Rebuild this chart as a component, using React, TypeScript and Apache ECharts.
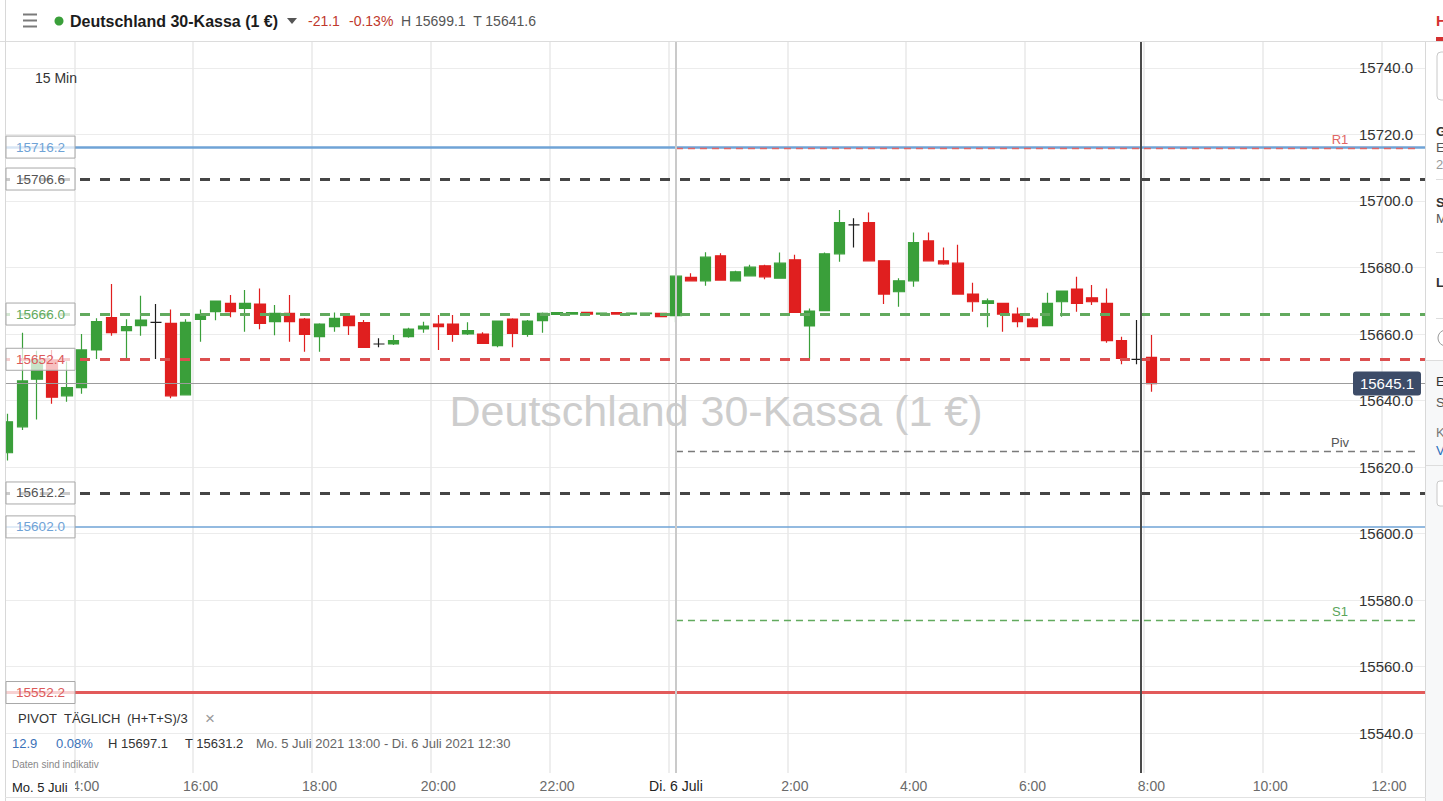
import React, { useEffect, useRef } from 'react';
import * as echarts from 'echarts';

// 15-minute slots, Mo. 5 Juli 12:45 -> Di. 6 Juli 12:30
const categories = [
  '12:45',
  '13:00', '13:15', '13:30', '13:45', '14:00', '14:15', '14:30', '14:45',
  '15:00', '15:15', '15:30', '15:45', '16:00', '16:15', '16:30', '16:45',
  '17:00', '17:15', '17:30', '17:45', '18:00', '18:15', '18:30', '18:45',
  '19:00', '19:15', '19:30', '19:45', '20:00', '20:15', '20:30', '20:45',
  '21:00', '21:15', '21:30', '21:45', '22:00', '22:15', '22:30', '22:45',
  '23:00', '23:15', '23:30', '23:45',
  '0:00', '0:15', '0:30', '0:45', '1:00', '1:15', '1:30', '1:45',
  '2:00', '2:15', '2:30', '2:45', '3:00', '3:15', '3:30', '3:45',
  '4:00', '4:15', '4:30', '4:45', '5:00', '5:15', '5:30', '5:45',
  '6:00', '6:15', '6:30', '6:45', '7:00', '7:15', '7:30', '7:45',
  '8:00', '8:15', '8:30', '8:45', '9:00', '9:15', '9:30', '9:45',
  '10:00', '10:15', '10:30', '10:45', '11:00', '11:15', '11:30', '11:45',
  '12:00', '12:15', '12:30',
];

const xTickLabels = ['14:00', '16:00', '18:00', '20:00', '22:00', '0:00', '2:00', '4:00', '6:00', '8:00', '10:00', '12:00'];
const dayLabel = 'Di. 6 Juli';
const dayCategory = '0:00';

const opens = [
  15624.3, 15632.1, 15646.4, 15652.2, 15641.4, 15643.9, 15655.2, 15664.9, 15661.0, 15662.5,
  15663.5, 15663.2, 15641.7, 15664.4, 15666.7, 15669.2, 15667.7, 15669.0, 15663.7, 15666.2,
  15664.5, 15659.2, 15662.2, 15665.4, 15663.4, 15657.0, 15657.0, 15659.2, 15661.5, 15663.0,
  15663.0, 15660.0, 15660.0, 15656.5, 15664.5, 15659.9, 15664.0, 15665.9, 15666.0, 15666.5,
  15666.0, 15666.4, 15666.0, 15666.1, 15666.2, 15665.5, 15677.0, 15676.0, 15683.5, 15676.0,
  15677.5, 15680.5, 15676.8, 15682.3, 15662.4, 15667.0, 15684.1, 15692.8, 15693.5, 15682.0,
  15672.7, 15676.0, 15688.0, 15682.0, 15681.3, 15672.0, 15669.2, 15669.2, 15666.0, 15664.5,
  15662.5, 15669.7, 15673.5, 15670.9, 15669.2, 15658.0, 15652.4, 15653.0,
];
const closes = [
  15633.6, 15645.9, 15652.2, 15641.0, 15643.9, 15655.2, 15663.7, 15660.4, 15662.2, 15664.2,
  15663.5, 15641.4, 15663.5, 15665.9, 15669.9, 15666.7, 15669.2, 15663.2, 15666.2, 15663.7,
  15659.9, 15663.0, 15664.7, 15662.5, 15656.0, 15657.0, 15658.0, 15661.5, 15662.4, 15662.2,
  15659.9, 15661.0, 15657.2, 15663.9, 15660.2, 15663.9, 15666.2, 15666.4, 15666.4, 15666.0,
  15666.3, 15666.0, 15666.3, 15666.3, 15665.2, 15677.4, 15676.0, 15683.1, 15676.2, 15678.7,
  15680.1, 15677.2, 15681.3, 15666.5, 15666.9, 15684.1, 15693.5, 15692.8, 15682.0, 15672.0,
  15676.0, 15687.5, 15682.0, 15681.1, 15672.0, 15669.7, 15670.0, 15666.0, 15663.7, 15662.2,
  15669.2, 15672.9, 15669.2, 15669.7, 15658.0, 15652.7, 15652.4, 15645.1,
];
const lows = [
  15622.0, 15631.1, 15634.3, 15639.0, 15639.6, 15642.0, 15652.5, 15659.5, 15652.5, 15659.5,
  15652.5, 15640.7, 15641.5, 15657.7, 15664.1, 15665.0, 15660.7, 15661.4, 15659.6, 15657.7,
  15654.7, 15654.7, 15660.7, 15659.7, 15655.8, 15656.0, 15656.7, 15658.9, 15660.4, 15655.2,
  15657.7, 15659.7, 15657.0, 15656.0, 15656.0, 15659.2, 15660.4, 15665.8, 15665.9, 15665.9,
  15665.9, 15665.9, 15665.9, 15666.0, 15665.0, 15663.5, 15676.0, 15674.5, 15676.0, 15676.0,
  15677.5, 15676.5, 15676.8, 15666.5, 15652.4, 15667.0, 15681.7, 15686.0, 15682.0, 15669.0,
  15668.2, 15674.2, 15682.0, 15680.8, 15672.0, 15666.7, 15662.0, 15660.7, 15662.0, 15662.0,
  15662.5, 15665.2, 15666.7, 15668.7, 15657.4, 15650.9, 15650.9, 15642.6,
];
const highs = [
  15636.0, 15660.4, 15655.0, 15655.2, 15651.7, 15660.0, 15664.7, 15675.0, 15664.4, 15671.5,
  15669.0, 15667.4, 15664.4, 15667.4, 15670.0, 15671.7, 15673.2, 15673.7, 15668.7, 15671.7,
  15664.8, 15663.2, 15666.5, 15665.7, 15664.2, 15658.7, 15659.7, 15661.9, 15663.7, 15665.7,
  15665.7, 15663.5, 15660.5, 15664.0, 15664.7, 15664.2, 15666.5, 15666.5, 15666.5, 15666.6,
  15666.4, 15666.5, 15666.4, 15666.4, 15666.3, 15677.5, 15678.3, 15684.6, 15684.3, 15679.0,
  15680.8, 15680.8, 15684.5, 15683.8, 15667.7, 15684.5, 15697.3, 15694.8, 15696.5, 15682.0,
  15676.8, 15690.5, 15690.5, 15686.0, 15686.8, 15675.4, 15670.7, 15669.2, 15668.0, 15665.0,
  15672.4, 15673.0, 15677.2, 15674.7, 15673.7, 15659.2, 15664.2, 15659.7,
];

// horizontal drawn levels (full width)
const levelValues = [15716.2, 15706.6, 15666.0, 15652.4, 15612.2, 15602.0, 15552.2];
// daily pivot levels (from the day break onwards)
const pivotNames = ['R1', 'Piv', 'S1'];
const pivotValues = [15715.8, 15624.7, 15574.0];
const lastPrice = 15645.1;

const yMin = 15528.0;
const yMax = 15747.8;

// styles (kept separate from the data)
const levelStyles = [
  { color: '#6fa3d6', width: 2.5, type: 'solid', text: '#6fa3d6' },
  { color: '#454545', width: 3, type: [10, 10], text: '#555' },
  { color: '#62aa5e', width: 3, type: [10, 10], text: '#62aa5e' },
  { color: '#dc4f4f', width: 3, type: [10, 10], text: '#dc5a5a' },
  { color: '#454545', width: 3, type: [10, 10], text: '#555' },
  { color: '#6fa3d6', width: 1.5, type: 'solid', text: '#6fa3d6' },
  { color: '#e25a5a', width: 3, type: 'solid', text: '#dc5a5a' },
];
const pivotStyles = [
  { color: '#e06666', text: '#e06666' },
  { color: '#7a7a7a', text: '#555' },
  { color: '#62aa5e', text: '#5aa55a' },
];

const FONT = "'Liberation Sans', Arial, sans-serif";

export default function App() {
  const ref = useRef<HTMLDivElement>(null);

  useEffect(() => {
    const chart = echarts.init(ref.current!, undefined, { renderer: 'svg' });
    const candleData = opens.map((o, i) => [o, closes[i], lows[i], highs[i]]);
    const lastCat = categories[categories.length - 1];

    const markData: any[] = [];
    levelValues.forEach((v, i) => {
      const s = levelStyles[i];
      markData.push({ yAxis: v, lineStyle: { color: s.color, width: s.width, type: s.type } });
    });
    pivotValues.forEach((v, i) => {
      const s = pivotStyles[i];
      markData.push([
        { coord: [dayCategory, v], lineStyle: { color: s.color, width: 1.3, type: [7, 5] } },
        { coord: [lastCat, v] },
      ]);
    });
    markData.push({ yAxis: lastPrice, lineStyle: { color: '#9c9c9c', width: 1, type: 'solid' } });
    markData.push({ xAxis: dayCategory, lineStyle: { color: '#cacaca', width: 2, type: 'solid' } });

    const option: any = {
      animation: false,
      textStyle: { fontFamily: FONT },
      grid: { left: -3, right: 16.8, top: 42, bottom: 28, containLabel: false },
      xAxis: {
        type: 'category',
        data: categories,
        boundaryGap: true,
        axisLine: { show: false },
        axisTick: { show: false },
        axisLabel: {
          interval: (_i: number, v: string) => xTickLabels.includes(v),
          formatter: (v: string) => (v === dayCategory ? dayLabel : v),
          color: (v: string) => (v === dayCategory ? '#222' : '#6a6a6a'),
          fontSize: 14,
          margin: 6,
          fontFamily: FONT,
        },
        splitLine: {
          show: true,
          interval: (_i: number, v: string) => xTickLabels.includes(v),
          lineStyle: { color: '#e8e8e8', width: 1.5 },
        },
      },
      yAxis: {
        type: 'value',
        position: 'right',
        min: yMin,
        max: yMax,
        splitNumber: 11,
        minInterval: 20,
        maxInterval: 20,
        scale: true,
        axisLine: { show: false },
        axisTick: { show: false },
        axisLabel: {
          inside: true,
          margin: 13,
          color: '#333',
          fontSize: 15,
          fontFamily: FONT,
          showMinLabel: false,
          showMaxLabel: false,
          formatter: (v: number) => v.toFixed(1),
        },
        splitLine: { show: true, showMinLine: false, showMaxLine: false, lineStyle: { color: '#ececec', width: 1 } },
      },
      series: [
        {
          type: 'line',
          data: [],
          z: 2,
          silent: true,
          markLine: {
            silent: true,
            symbol: ['none', 'none'],
            label: { show: false },
            emphasis: { disabled: true },
            data: markData,
          },
        },
        {
          type: 'candlestick',
          data: candleData,
          z: 4,
          barWidth: 11,
          silent: true,
          itemStyle: {
            color: '#3a9f3a',
            color0: '#e01f1f',
            borderColor: '#3a9f3a',
            borderColor0: '#e01f1f',
            borderColorDoji: '#1e1e1e',
            borderWidth: 1.2,
          },
        },
      ],
    };
    chart.setOption(option);

    const yPix = (v: number) => chart.convertToPixel({ yAxisIndex: 0 }, v) as number;

    const txt = (x: number, y: number, text: string, fill: string, size: number, extra: any = {}) => ({
      type: 'text',
      x,
      y,
      z: 120,
      silent: true,
      style: { text, fill, fontSize: size, fontFamily: FONT, align: 'left', verticalAlign: 'middle', ...extra },
    });
    const line = (x1: number, y1: number, x2: number, y2: number, stroke: string, w = 1, z = 100) => ({
      type: 'line',
      z,
      silent: true,
      shape: { x1, y1, x2, y2 },
      style: { stroke, lineWidth: w },
    });

    const els: any[] = [];
    // watermark
    els.push({
      type: 'text', x: 716, y: 411, z: 0, silent: true,
      style: { text: 'Deutschland 30-Kassa (1 €)', fill: '#cdcdcd', fontSize: 43, fontFamily: FONT, align: 'center', verticalAlign: 'middle' },
    });
    // header
    els.push({ type: 'rect', z: 99, silent: true, shape: { x: 0, y: 0, width: 1443, height: 41.5 }, style: { fill: '#fff' } });
    els.push(line(0, 41.5, 1443, 41.5, '#dcdcdc', 1));
    [14.5, 20.5, 26.5].forEach((yy) => els.push({ type: 'rect', z: 100, silent: true, shape: { x: 23, y: yy - 1, width: 14, height: 2 }, style: { fill: '#7a7a7a' } }));
    els.push({ type: 'circle', z: 100, silent: true, shape: { cx: 59, cy: 21, r: 4.5 }, style: { fill: '#3a9f3a' } });
    els.push(txt(70, 21, 'Deutschland 30-Kassa (1 €)', '#1c1c1c', 16, { fontWeight: 'bold' }));
    els.push({ type: 'polygon', z: 100, silent: true, shape: { points: [[287, 18], [297, 18], [292, 24]] }, style: { fill: '#555' } });
    els.push(txt(308, 21, '-21.1', '#c0392b', 14));
    els.push(txt(349, 21, '-0.13%', '#c0392b', 14));
    els.push(txt(401, 21, 'H 15699.1  T 15641.6', '#555', 14));
    els.push(txt(1436, 20, 'H', '#d43030', 15, { fontWeight: 'bold' }));
    els.push({ type: 'rect', z: 100, silent: true, shape: { x: 1436, y: 37, width: 7, height: 4 }, style: { fill: '#d43030' } });

    // left margin + border
    els.push({ type: 'rect', z: 99, silent: true, shape: { x: 0, y: 42, width: 5, height: 760 }, style: { fill: '#fff' } });
    els.push(line(5.5, 0, 5.5, 801, '#d8d8d8', 1));
    // right sidebar
    els.push({ type: 'rect', z: 99, silent: true, shape: { x: 1426, y: 42, width: 17, height: 760 }, style: { fill: '#fff' } });
    els.push({ type: 'rect', z: 99, silent: true, shape: { x: 1426, y: 360, width: 17, height: 441 }, style: { fill: '#f7f8f9' } });
    els.push(line(1425.5, 42, 1425.5, 801, '#d8d8d8', 1));
    els.push({ type: 'rect', z: 100, silent: true, shape: { x: 1437, y: 52, width: 20, height: 48, r: 4 }, style: { fill: '#fff', stroke: '#c8c8c8', lineWidth: 1 } });
    els.push(txt(1436, 131, 'G', '#333', 13, { fontWeight: 'bold' }));
    els.push(txt(1436, 147, 'E', '#555', 13));
    els.push(txt(1436, 164, '2', '#999', 13));
    els.push(line(1436, 179.5, 1443, 179.5, '#dddddd', 1));
    els.push(txt(1436, 202, 'S', '#333', 13, { fontWeight: 'bold' }));
    els.push(txt(1436, 218, 'M', '#555', 13));
    els.push(line(1436, 252.5, 1443, 252.5, '#dddddd', 1));
    els.push(txt(1436, 282, 'L', '#333', 13, { fontWeight: 'bold' }));
    els.push(line(1436, 318.5, 1443, 318.5, '#dddddd', 1));
    els.push({ type: 'circle', z: 100, silent: true, shape: { cx: 1446, cy: 338, r: 8 }, style: { fill: '#fff', stroke: '#999', lineWidth: 1 } });
    els.push(line(1426, 360.5, 1443, 360.5, '#dddddd', 1));
    els.push(txt(1436, 381, 'E', '#333', 13));
    els.push(txt(1436, 402, 'S', '#555', 13));
    els.push(txt(1436, 432, 'K', '#777', 13));
    els.push(txt(1436, 450, 'V', '#2a6ebb', 13));
    els.push(line(1426, 465.5, 1443, 465.5, '#dddddd', 1));
    els.push({ type: 'rect', z: 100, silent: true, shape: { x: 1437, y: 481, width: 20, height: 25, r: 3 }, style: { fill: '#fff', stroke: '#c8c8c8', lineWidth: 1 } });

    // bottom line
    els.push(line(5, 797.5, 1426, 797.5, '#e2e2e2', 1));

    // left level boxes
    levelValues.forEach((v, i) => {
      const y = yPix(v);
      els.push({
        type: 'rect', z: 101, silent: true,
        shape: { x: 6, y: y - 11, width: 69, height: 22 },
        style: { fill: 'rgba(255,255,255,0.72)', stroke: '#a8a8a8', lineWidth: 1 },
      });
      els.push(txt(40.5, y, v.toFixed(1), levelStyles[i].text, 13.5, { align: 'center' }));
    });
    // pivot labels
    pivotValues.forEach((v, i) => {
      const y = yPix(v);
      els.push(txt(1340, y - 9, pivotNames[i], pivotStyles[i].text, 13, { align: 'center' }));
    });
    // last price tag
    const yl = yPix(lastPrice);
    els.push({ type: 'rect', z: 101, silent: true, shape: { x: 1353, y: yl - 12, width: 68, height: 24, r: 3 }, style: { fill: '#3d4c68' } });
    els.push(txt(1387, yl, lastPrice.toFixed(1), '#ffffff', 15, { align: 'center' }));

    // crosshair
    els.push(line(1141, 42, 1141, 773, '#4a4a4a', 2));

    // timeframe
    els.push(txt(35, 78, '15 Min', '#333', 14));

    // pivot info block
    els.push(txt(18, 718, 'PIVOT', '#333', 13));
    els.push(txt(64, 718, 'TÄGLICH', '#333', 13));
    els.push(txt(127, 718, '(H+T+S)/3', '#333', 13));
    els.push(txt(205, 718, '×', '#999', 17));
    els.push(txt(12, 743, '12.9', '#3b72b8', 13));
    els.push(txt(56, 743, '0.08%', '#3b72b8', 13));
    els.push(txt(108, 743, 'H 15697.1', '#333', 13));
    els.push(txt(185, 743, 'T 15631.2', '#333', 13));
    els.push(txt(256, 743, 'Mo. 5 Juli 2021 13:00 - Di. 6 Juli 2021 12:30', '#666', 13));
    els.push(txt(12, 764, 'Daten sind indikativ', '#888', 10));

    // first-day label at the left of the time axis (covers the start of the 14:00 label)
    els.push({ type: 'rect', z: 101, silent: true, shape: { x: 6, y: 777, width: 69, height: 19 }, style: { fill: '#fff' } });
    els.push(txt(12, 787, 'Mo. 5 Juli', '#222', 13));

    chart.setOption({ graphic: { elements: els } });

    return () => chart.dispose();
  }, []);

  return (
    <div
      ref={ref}
      style={{ position: 'fixed', left: 0, top: 0, width: 1443, height: 801, background: '#fff' }}
    />
  );
}
